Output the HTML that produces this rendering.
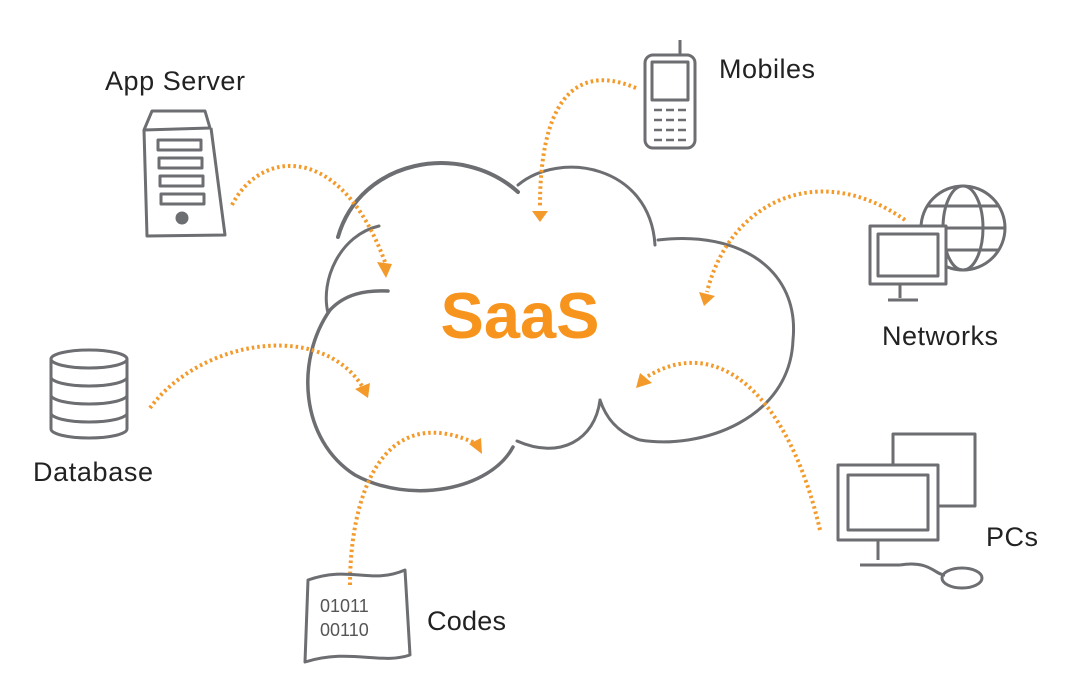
<!DOCTYPE html>
<html><head><meta charset="utf-8"><style>
html,body{margin:0;padding:0;background:#fff}
svg{display:block}
text{font-family:"Liberation Sans",sans-serif;fill:#222}
</style></head><body>
<svg width="1075" height="700" viewBox="0 0 1075 700" xmlns="http://www.w3.org/2000/svg">
<!-- cloud -->
<g fill="none" stroke="#6d6e71" stroke-width="3" stroke-linecap="round">
<path d="M338,237 C360,160 460,140 518,192" stroke-width="4"/>
<path d="M518,185 C560,150 650,165 655,245"/>
<path d="M658,240 C740,230 800,270 793,340 C790,420 700,450 640,440 C615,432 605,415 600,400"/>
<path d="M600,400 C595,440 560,460 517,441"/>
<path d="M513,447 C490,490 410,505 355,475 C300,440 295,360 330,310 C345,294 365,290 388,291" stroke-width="3.5"/>
<path d="M379,226 C340,235 320,280 328,313"/>
</g>
<text x="520" y="338" text-anchor="middle" font-size="65" font-weight="bold" style="fill:#f7941d">SaaS</text>
<!-- arrows -->
<g fill="none" stroke="#f39a2b" stroke-width="4" stroke-dasharray="2.5 3">
<path d="M232,205 C260,150 340,140 385,262"/>
<path d="M636,88 C570,60 540,110 540,206"/>
<path d="M905,220 C820,160 730,200 707,292"/>
<path d="M150,408 C200,340 320,320 362,386"/>
<path d="M350,585 C350,500 380,400 475,443"/>
<path d="M820,530 C790,400 720,330 645,378"/>
</g>
<g fill="#f39a2b">
<polygon points="377,262 392,264 386,278"/>
<polygon points="532,211 548,211 540,222"/>
<polygon points="699,292 715,296 704,306"/>
<polygon points="355,389 370,383 368,398"/>
<polygon points="469,444 481,438 482,454"/>
<polygon points="640,373 652,383 636,388"/>
</g>
<!-- labels -->
<text x="105" y="90" font-size="27" textLength="140">App Server</text>
<text x="719" y="78" font-size="27" textLength="96">Mobiles</text>
<text x="882" y="345" font-size="27" textLength="116">Networks</text>
<text x="33" y="481" font-size="27" textLength="120">Database</text>
<text x="986" y="546" font-size="27" textLength="52">PCs</text>
<text x="427" y="630" font-size="27" textLength="79">Codes</text>
<!-- icons -->
<g fill="none" stroke="#6d6e71" stroke-width="3" stroke-linejoin="round">
<path d="M152,111 L205,111 L210,128 L144,130 Z"/>
<path d="M144,130 L147,236 L225,235 L211,128"/>
<rect x="158" y="140" width="43" height="10"/>
<rect x="159" y="158" width="43" height="10"/>
<rect x="160" y="176" width="43" height="10"/>
<rect x="161" y="194" width="43" height="10"/>
<circle cx="182" cy="218" r="5" fill="#6d6e71"/>
<rect x="645" y="55" width="50" height="93" rx="8"/>
<rect x="652" y="62" width="36" height="38"/>
<path d="M680,40 L680,55"/>
<g stroke-width="2.5"><path d="M654,110h8M666,110h8M678,110h8M654,120h8M666,120h8M678,120h8M654,130h8M666,130h8M678,130h8M654,140h8M666,140h8M678,140h8"/></g>
<circle cx="963" cy="228" r="42"/>
<ellipse cx="963" cy="228" rx="20" ry="42"/>
<path d="M921,228h84M928,206h70M928,250h70"/>
<rect x="870" y="226" width="76" height="58" fill="#fff"/>
<rect x="878" y="234" width="60" height="42"/>
<path d="M900,284v14M888,300h30"/>
<ellipse cx="89" cy="359" rx="38" ry="9"/>
<path d="M51,359v70a38,9 0 0 0 76,0v-70"/>
<path d="M51,377a38,9 0 0 0 76,0M51,395a38,9 0 0 0 76,0M51,413a38,9 0 0 0 76,0"/>
<rect x="893" y="434" width="82" height="72"/>
<rect x="838" y="465" width="100" height="75" fill="#fff"/>
<rect x="848" y="475" width="80" height="55"/>
<path d="M878,540v20M860,565h40M900,565 C930,560 935,575 945,575"/>
<ellipse cx="962" cy="578" rx="20" ry="10"/>
<path d="M308,580 C350,565 370,585 405,570 L410,655 C380,665 350,648 305,662 Z"/>
</g>
<text x="320" y="612" font-size="18" style="fill:#555">01011</text>
<text x="320" y="636" font-size="18" style="fill:#555">00110</text>
</svg>
</body></html>
